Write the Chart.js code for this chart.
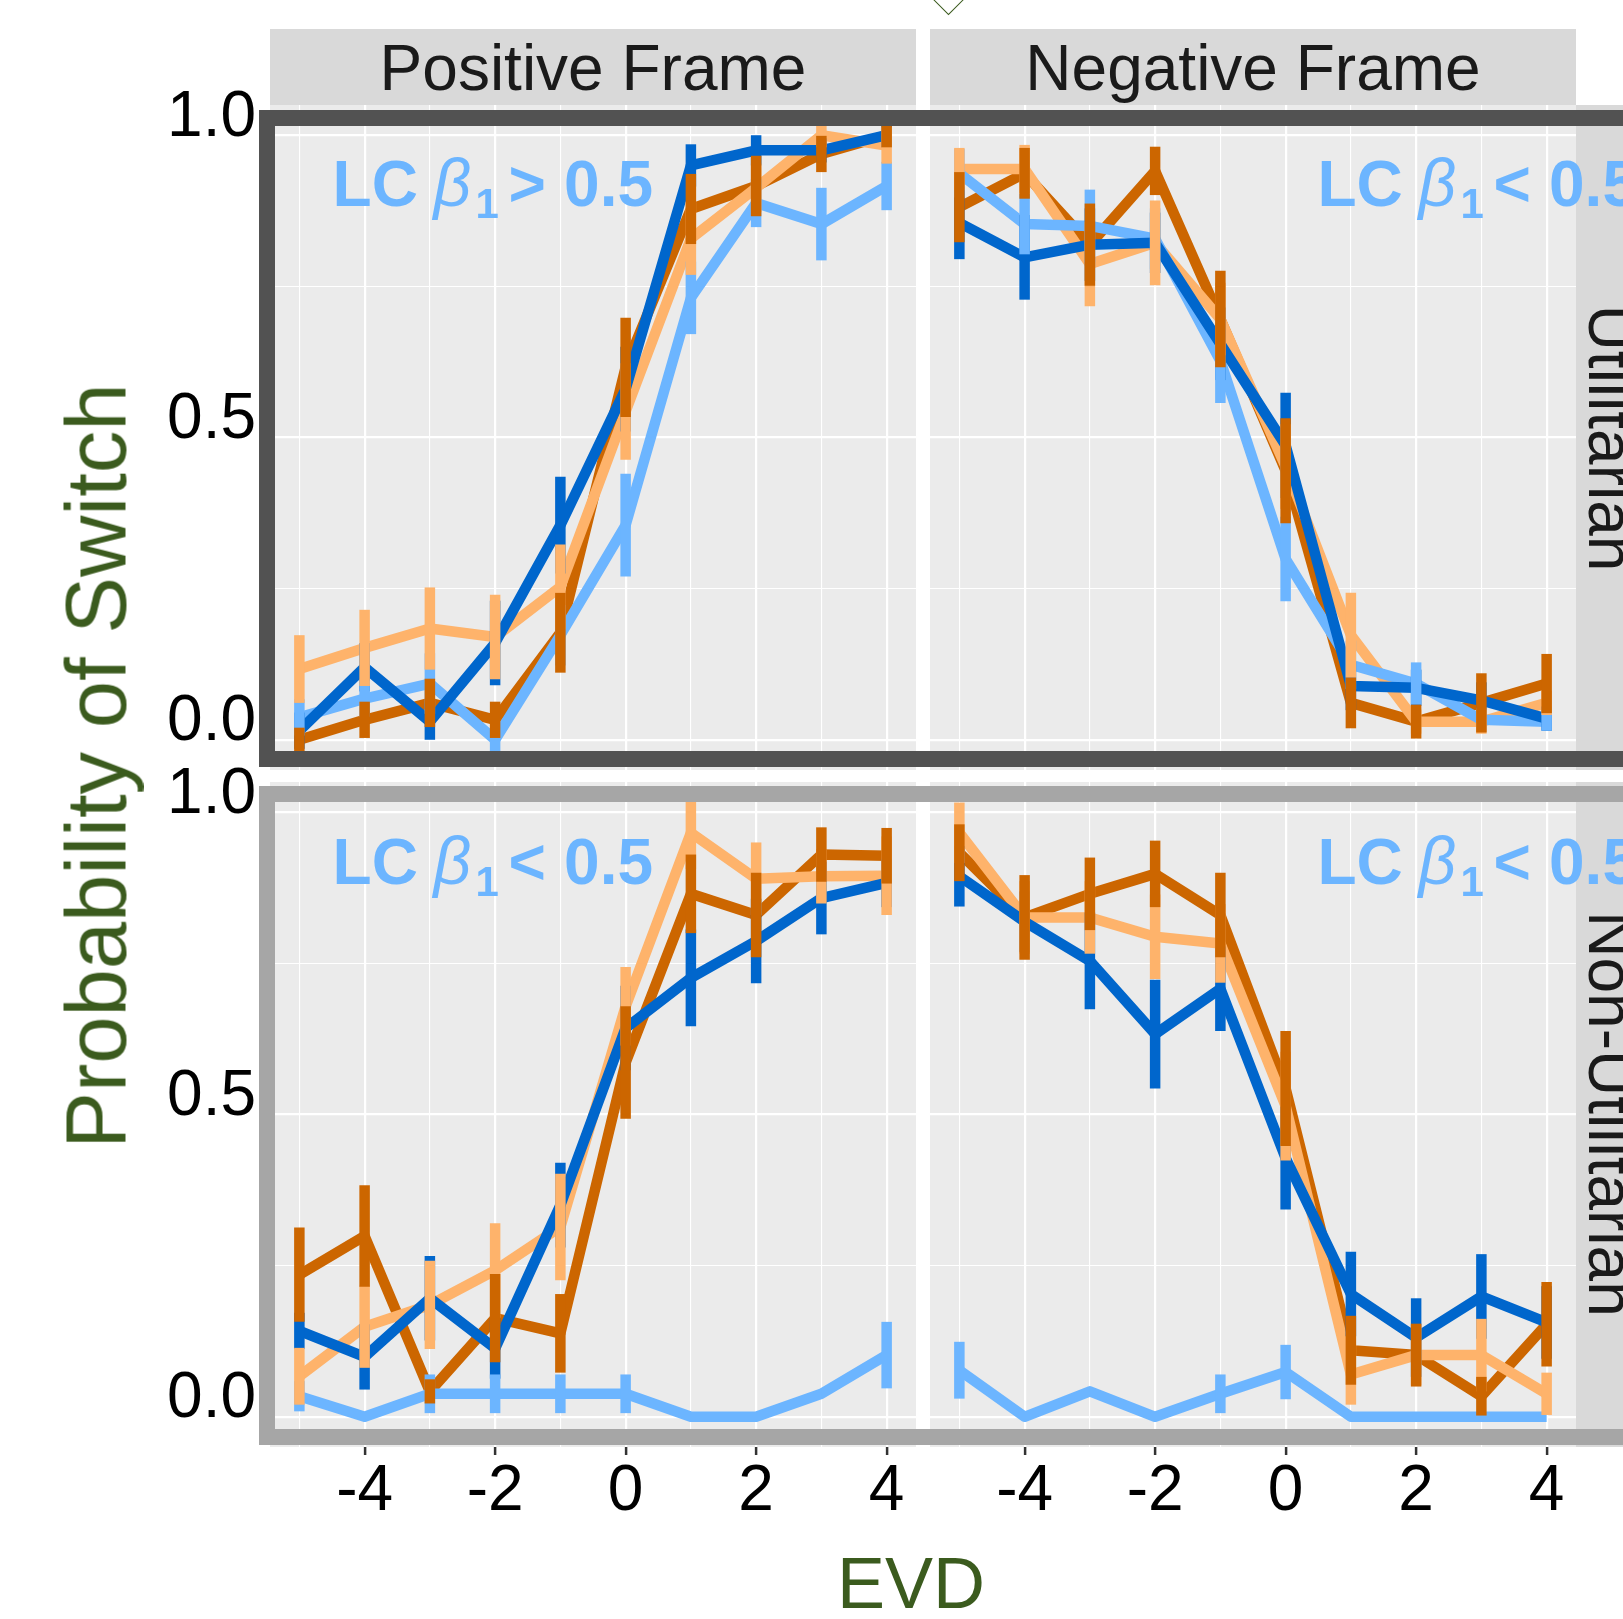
<!DOCTYPE html>
<html>
<head>
<meta charset="utf-8">
<script src="https://cdn.jsdelivr.net/npm/chart.js"></script>
<style>
  html, body { margin: 0; padding: 0; background: #fff; }
  body {
    width: 1623px; height: 1619px; position: relative; overflow: hidden;
    font-family: "Liberation Sans", Arial, Helvetica, sans-serif;
  }
  canvas { position: absolute; z-index: 1; }
  .strip { position: absolute; background: #d9d9d9; z-index: 2; }
  .lbl {
    position: absolute; white-space: nowrap; line-height: 1; z-index: 5;
    transform: translate(-50%, -50%);
  }
  .strip-txt { font-size: 64px; color: #1a1a1a; }
  .rot-cw { transform: translate(-50%, -50%) rotate(90deg); }
  .rot-ccw { transform: translate(-50%, -50%) rotate(-90deg); }
  .axis-title { color: #3b5b1e; }
  .frame { position: absolute; box-sizing: border-box; border: 16px solid; z-index: 3; }
  .note { position: absolute; white-space: nowrap; line-height: 1; color: #6cb5ff; z-index: 4; }
  .diamond {
    position: absolute; box-sizing: border-box; width: 25px; height: 25px;
    border: 1.6px solid #3b5b1e; transform: rotate(45deg); z-index: 5;
  }
</style>
</head>
<body>

<canvas id="tl" width="776" height="710" style="left:140px; top:60px;"></canvas>
<canvas id="tr" width="646" height="665" style="left:930px; top:105px;"></canvas>
<canvas id="bl" width="776" height="800" style="left:140px; top:737px;"></canvas>
<canvas id="br" width="646" height="755" style="left:930px; top:782px;"></canvas>

<!-- strips -->
<div class="strip" style="left:270px; top:29px; width:646px; height:76px;"></div>
<div class="strip" style="left:930px; top:29px; width:646px; height:76px;"></div>
<div class="strip" style="left:1576px; top:105px; width:90px; height:665px;"></div>
<div class="strip" style="left:1576px; top:782px; width:90px; height:665px;"></div>
<div class="lbl strip-txt" style="left:593px; top:68px;">Positive Frame</div>
<div class="lbl strip-txt" style="left:1253px; top:68px;">Negative Frame</div>
<div class="lbl strip-txt rot-cw" style="left:1611px; top:438px;">Utilitarian</div>
<div class="lbl strip-txt rot-cw" style="left:1611px; top:1114px;">Non-Utilitarian</div>

<!-- marcos de las filas -->
<div class="frame" style="left:259px; top:110px; width:1460px; height:657px; border-color:#525252;"></div>
<div class="frame" style="left:259px; top:786px; width:1460px; height:659px; border-color:#a6a6a6;"></div>

<div class="lbl axis-title rot-ccw" style="left:96px; top:766px; font-size:85px;">Probability of Switch</div>
<div class="lbl axis-title" style="left:911px; top:1583px; font-size:72px;">EVD</div>
<div class="diamond" style="left:936px; top:-15px;"></div>

<script>
// eje x y ticks
const evd = [-5, -4, -3, -2, -1, 0, 1, 2, 3, 4];
const xTickLabels = ['', '-4', '', '-2', '', '0', '', '2', '', '4'];
const yTicks = [0, 0.25, 0.5, 0.75, 1];
const yTickLabels = ['0.0', '', '0.5', '', '1.0'];

// Positive Frame / Utilitarian
const posUtilDarkBlue = [0.015, 0.12, 0.03, 0.16, 0.355, 0.58, 0.95, 0.975, 0.975, 1.0];
const posUtilDarkBlueErr = [0.03, 0.04, 0.03, 0.07, 0.08, 0.07, 0.035, 0.025, 0.02, 0.02];
const posUtilLightBlue = [0.037, 0.068, 0.093, 0.0, 0.173, 0.355, 0.731, 0.888, 0.853, 0.916];
const posUtilLightBlueErr = [0.03, 0.03, 0.05, 0.02, 0.05, 0.085, 0.06, 0.04, 0.06, 0.04];
const posUtilLightOrange = [0.117, 0.152, 0.184, 0.17, 0.253, 0.543, 0.829, 0.913, 1.0, 0.983];
const posUtilLightOrangeErr = [0.056, 0.063, 0.068, 0.07, 0.07, 0.08, 0.06, 0.04, 0.02, 0.03];
const posUtilDarkOrange = [0.0, 0.033, 0.061, 0.033, 0.177, 0.616, 0.878, 0.916, 0.969, 1.0];
const posUtilDarkOrangeErr = [0.02, 0.03, 0.04, 0.03, 0.066, 0.082, 0.058, 0.05, 0.03, 0.02];

// Negative Frame / Utilitarian
const negUtilDarkBlue = [0.855, 0.798, 0.819, 0.822, 0.655, 0.487, 0.089, 0.086, 0.065, 0.035];
const negUtilDarkBlueErr = [0.06, 0.07, 0.06, 0.05, 0.06, 0.087, 0.04, 0.03, 0.03, 0.02];
const negUtilLightBlue = [0.937, 0.853, 0.85, 0.829, 0.627, 0.299, 0.124, 0.093, 0.033, 0.03];
const negUtilLightBlueErr = [0.04, 0.05, 0.06, 0.05, 0.07, 0.07, 0.04, 0.035, 0.02, 0.015];
const negUtilLightOrange = [0.944, 0.944, 0.787, 0.822, 0.696, 0.452, 0.173, 0.03, 0.03, 0.061];
const negUtilLightOrangeErr = [0.035, 0.04, 0.07, 0.07, 0.06, 0.07, 0.07, 0.02, 0.02, 0.02];
const negUtilDarkOrange = [0.881, 0.937, 0.819, 0.941, 0.696, 0.445, 0.061, 0.03, 0.061, 0.093];
const negUtilDarkOrangeErr = [0.058, 0.042, 0.068, 0.04, 0.08, 0.087, 0.042, 0.028, 0.049, 0.049];

// Positive Frame / Non-Utilitarian
const posNonDarkBlue = [0.142, 0.099, 0.196, 0.113, 0.35, 0.643, 0.726, 0.787, 0.858, 0.883];
const posNonDarkBlueErr = [0.03, 0.054, 0.07, 0.05, 0.07, 0.07, 0.08, 0.07, 0.06, 0.04];
const posNonLightBlue = [0.034, 0.0, 0.038, 0.038, 0.038, 0.038, 0.0, 0.0, 0.038, 0.102];
const posNonLightBlueErr = [0.025, 0, 0.032, 0.032, 0.032, 0.032, 0, 0, 0, 0.055];
const posNonLightOrange = [0.067, 0.149, 0.185, 0.242, 0.314, 0.679, 0.966, 0.89, 0.894, 0.895];
const posNonLightOrangeErr = [0.047, 0.068, 0.073, 0.078, 0.088, 0.065, 0.06, 0.06, 0.045, 0.065];
const posNonDarkOrange = [0.235, 0.299, 0.042, 0.163, 0.138, 0.586, 0.865, 0.83, 0.93, 0.928];
const posNonDarkOrangeErr = [0.078, 0.084, 0.02, 0.073, 0.065, 0.093, 0.065, 0.07, 0.045, 0.046];

// Negative Frame / Non-Utilitarian
const negNonDarkBlue = [0.894, 0.819, 0.754, 0.633, 0.708, 0.428, 0.203, 0.131, 0.199, 0.156];
const negNonDarkBlueErr = [0.05, 0.05, 0.08, 0.09, 0.07, 0.085, 0.07, 0.065, 0.07, 0.06];
const negNonLightBlue = [0.077, 0.0, 0.042, 0.0, 0.038, 0.074, 0.0, 0.0, 0.0, 0.0];
const negNonLightBlueErr = [0.047, 0, 0, 0, 0.032, 0.045, 0, 0, 0, 0];
const negNonLightOrange = [0.966, 0.826, 0.826, 0.794, 0.783, 0.514, 0.07, 0.102, 0.102, 0.038];
const negNonLightOrangeErr = [0.05, 0.06, 0.06, 0.07, 0.065, 0.09, 0.05, 0.05, 0.06, 0.035];
const negNonDarkOrange = [0.933, 0.826, 0.865, 0.898, 0.83, 0.543, 0.11, 0.102, 0.034, 0.153];
const negNonDarkOrangeErr = [0.047, 0.07, 0.06, 0.055, 0.07, 0.095, 0.057, 0.052, 0.032, 0.07];

const seriesColors = ['#0066cc', '#6cb5ff', '#feb36b', '#cc6600'];
const fontFamily = '"Liberation Sans", Arial, Helvetica, sans-serif';

// fondo gris del panel
const panelBg = {
  id: 'panelBg',
  beforeDraw(chart) {
    const { ctx, chartArea: a } = chart;
    ctx.save();
    ctx.fillStyle = '#ebebeb';
    ctx.fillRect(a.left, a.top, a.width, a.height);
    ctx.restore();
  }
};

// barras de error verticales, encima de las lineas
const errorBars = {
  id: 'errorBars',
  afterDatasetsDraw(chart) {
    const { ctx, chartArea: a, scales: { x, y } } = chart;
    ctx.save();
    ctx.beginPath();
    ctx.rect(a.left, a.top, a.width, a.height);
    ctx.clip();
    ctx.lineWidth = 10.5;
    ctx.lineCap = 'butt';
    chart.data.datasets.forEach(ds => {
      ctx.strokeStyle = ds.borderColor;
      ds.data.forEach((p, j) => {
        const e = ds.errors[j];
        if (!e) return;
        const px = x.getPixelForValue(p.x);
        ctx.beginPath();
        ctx.moveTo(px, y.getPixelForValue(p.y - e));
        ctx.lineTo(px, y.getPixelForValue(p.y + e));
        ctx.stroke();
      });
    });
    ctx.restore();
  }
};

const zeroPad = s => {
  s.paddingTop = 0; s.paddingBottom = 0; s.paddingLeft = 0; s.paddingRight = 0;
};

function makePanel(id, means, errs, opt) {
  const datasets = means.map((m, i) => ({
    data: evd.map((x, j) => ({ x, y: m[j] })),
    errors: errs[i],
    borderColor: seriesColors[i],
    borderWidth: 10.5,
    borderJoinStyle: 'round',
    borderCapStyle: 'butt',
    pointRadius: 0,
    fill: false,
    tension: 0
  }));

  return new Chart(document.getElementById(id), {
    type: 'line',
    data: { datasets },
    options: {
      responsive: false,
      animation: false,
      events: [],
      layout: { padding: { top: opt.padTop || 0 } },
      plugins: { legend: { display: false }, tooltip: { enabled: false } },
      scales: {
        x: {
          type: 'linear', min: -5.45, max: 4.45,
          afterBuildTicks: s => { s.ticks = evd.map(v => ({ value: v })); },
          afterFit: s => { s.height = opt.xLabels ? 90 : 0; zeroPad(s); },
          ticks: {
            display: opt.xLabels, autoSkip: false, maxRotation: 0, padding: -1,
            callback: (v, i) => xTickLabels[i],
            font: { family: fontFamily, size: 64 }, color: '#000'
          },
          grid: {
            color: '#fff',
            lineWidth: c => xTickLabels[c.index] ? 2.2 : 1.1,
            drawTicks: opt.xLabels, tickLength: 8, tickWidth: 2.5,
            tickColor: c => xTickLabels[c.index] ? '#333' : 'rgba(0,0,0,0)'
          },
          border: { display: false }
        },
        y: {
          type: 'linear', min: -0.05, max: 1.05,
          afterBuildTicks: s => { s.ticks = yTicks.map(v => ({ value: v })); },
          afterFit: s => { s.width = opt.yLabels ? 130 : 0; zeroPad(s); },
          ticks: {
            display: opt.yLabels, autoSkip: false, padding: 14, labelOffset: -17,
            callback: (v, i) => yTickLabels[i],
            font: { family: fontFamily, size: 64 }, color: '#000'
          },
          grid: {
            color: '#fff',
            lineWidth: c => yTickLabels[c.index] ? 2.2 : 1.1,
            drawTicks: false
          },
          border: { display: false }
        }
      }
    },
    plugins: [panelBg, errorBars]
  });
}

makePanel('tl',
  [posUtilDarkBlue, posUtilLightBlue, posUtilLightOrange, posUtilDarkOrange],
  [posUtilDarkBlueErr, posUtilLightBlueErr, posUtilLightOrangeErr, posUtilDarkOrangeErr],
  { yLabels: true, xLabels: false, padTop: 45 });
makePanel('tr',
  [negUtilDarkBlue, negUtilLightBlue, negUtilLightOrange, negUtilDarkOrange],
  [negUtilDarkBlueErr, negUtilLightBlueErr, negUtilLightOrangeErr, negUtilDarkOrangeErr],
  { yLabels: false, xLabels: false });
makePanel('bl',
  [posNonDarkBlue, posNonLightBlue, posNonLightOrange, posNonDarkOrange],
  [posNonDarkBlueErr, posNonLightBlueErr, posNonLightOrangeErr, posNonDarkOrangeErr],
  { yLabels: true, xLabels: true, padTop: 45 });
makePanel('br',
  [negNonDarkBlue, negNonLightBlue, negNonLightOrange, negNonDarkOrange],
  [negNonDarkBlueErr, negNonLightBlueErr, negNonLightOrangeErr, negNonDarkOrangeErr],
  { yLabels: false, xLabels: true });

// etiquetas "LC β1 > 0.5" de cada panel
function addNote(left, baseline, sign) {
  const pieces = [
    { txt: 'LC', dx: 0, size: 64, weight: 'bold', style: 'normal', base: baseline },
    { txt: 'β', dx: 101, size: 66, weight: 'normal', style: 'italic', base: baseline },
    { txt: '1', dx: 143, size: 42, weight: 'bold', style: 'normal', base: baseline + 13 },
    { txt: sign, dx: 176, size: 64, weight: 'bold', style: 'normal', base: baseline },
    { txt: '0.5', dx: 231.5, size: 64, weight: 'bold', style: 'normal', base: baseline }
  ];
  pieces.forEach(p => {
    const el = document.createElement('span');
    el.className = 'note';
    el.textContent = p.txt;
    el.style.left = (left + p.dx) + 'px';
    el.style.top = (p.base - 0.8465 * p.size) + 'px';
    el.style.fontSize = p.size + 'px';
    el.style.fontWeight = p.weight;
    el.style.fontStyle = p.style;
    document.body.appendChild(el);
  });
}

addNote(332.6, 206, '>');
addNote(1317.5, 206, '<');
addNote(332.6, 884, '<');
addNote(1317.5, 884, '<');
</script>
</body>
</html>
